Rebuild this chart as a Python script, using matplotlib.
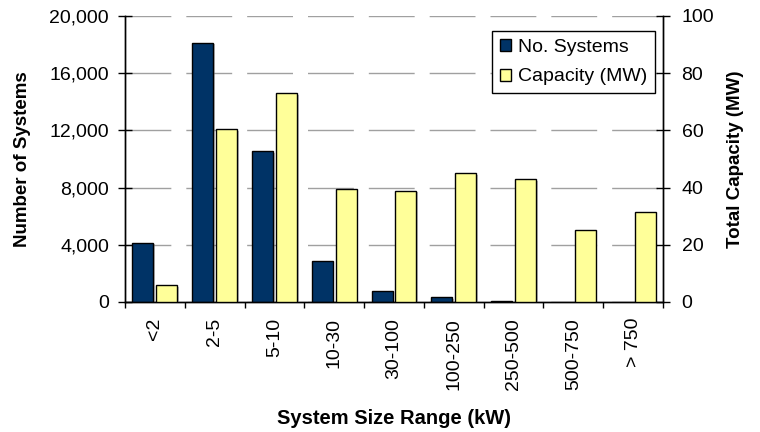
import matplotlib
matplotlib.use("Agg")
import matplotlib.pyplot as plt
import numpy as np
from matplotlib.ticker import FuncFormatter
import matplotlib.patheffects as pe

plt.rcParams['font.family'] = ['Liberation Sans', 'DejaVu Sans']

categories = ["<2", "2-5", "5-10", "10-30", "30-100", "100-250", "250-500", "500-750", "> 750"]
num_systems = [4150, 18130, 10540, 2870, 770, 350, 100, 0, 0]
capacity_mw = [5.9, 60.4, 73.0, 39.5, 38.9, 45.0, 42.9, 25.3, 31.5]

blue = "#003366"
yellow = "#FFFF99"

W, H = 760, 432
fig = plt.figure(figsize=(W/100, H/100), dpi=100)
L, R, T, B = 125, 663, 16, 302
ax = fig.add_axes([L/W, 1-B/H, (R-L)/W, (B-T)/H])
ax2 = ax.twinx()

x = np.arange(len(categories))
w = 0.35
gap = 0.05
shadow = [pe.SimplePatchShadow(offset=(1.2, -1.2), shadow_rgbFace="#808080", alpha=0.5), pe.Normal()]
lw1 = [0 if v == 0 else 1.0 for v in num_systems]
lw2 = [0 if v == 0 else 1.0 for v in capacity_mw]
b1 = ax.bar(x - (w+gap)/2, num_systems, width=w, color=blue, edgecolor="black", linewidth=lw1, zorder=3, label="No. Systems")
b2 = ax2.bar(x + (w+gap)/2, capacity_mw, width=w, color=yellow, edgecolor="black", linewidth=lw2, zorder=3, label="Capacity (MW)")
for p, v in zip(list(b1), num_systems):
    if v > 0:
        p.set_path_effects(shadow)
for p, v in zip(list(b2), capacity_mw):
    if v > 0:
        p.set_path_effects(shadow)

ax.set_xlim(-0.5, len(categories) - 0.5)
ax.set_ylim(0, 20000)
ax2.set_ylim(0, 100)
ax.set_yticks(np.arange(0, 20001, 4000))
ax2.set_yticks(np.arange(0, 101, 20))
ax.yaxis.set_major_formatter(FuncFormatter(lambda v, p: f"{int(v):,}"))

ax.grid(axis="y", color="#A0A0A0", linestyle=(0, (33, 10.8)), linewidth=1.0, zorder=0)
ax.set_axisbelow(True)

ax.set_xticks(x)
ax.set_xticklabels(categories, rotation=90, fontsize=14, va="top")
ax.tick_params(axis="x", which="major", length=0, pad=11.5)
ax.set_xticks(np.arange(-0.5, len(categories), 1.0), minor=True)
ax.tick_params(axis="x", which="minor", length=4.5, direction="out", color="black", width=1.0)

ax.tick_params(axis="y", labelsize=14, length=10, direction="inout", pad=6.5, width=1.0)
ax2.tick_params(axis="y", labelsize=14, length=10, direction="inout", pad=8.4, width=1.0)

for a in (ax, ax2):
    a.spines["top"].set_visible(False)
    for s in ("left", "right", "bottom"):
        a.spines[s].set_color("black")
        a.spines[s].set_linewidth(1.0)

ax.set_ylabel("Number of Systems", fontsize=13.5, fontweight="bold")
ax.yaxis.set_label_coords((22-L)/(R-L), 0.5)
ax.yaxis.label.set_va("center")
ax2.set_ylabel("Total Capacity (MW)", fontsize=13.5, fontweight="bold")
ax2.yaxis.set_label_coords((736-L)/(R-L), 0.5)
ax2.yaxis.label.set_va("center")
ax.set_xlabel("System Size Range (kW)", fontsize=14.5, fontweight="bold")
ax.xaxis.set_label_coords(0.5, (B-418)/(B-T))
ax.xaxis.label.set_va("center")

leg = ax2.legend(handles=[b1, b2], loc="upper right", bbox_to_anchor=(655/W, 1-31/H), bbox_transform=fig.transFigure,
                 fontsize=14, frameon=True, fancybox=False, edgecolor="black", framealpha=1,
                 handlelength=0.57, handleheight=0.57, handletextpad=0.36, borderpad=0.4,
                 labelspacing=0.65, borderaxespad=0)
leg.get_frame().set_linewidth(1.0)
for h in leg.legend_handles:
    h.set_linewidth(1.0)
    h.set_path_effects([])

fig.savefig("out.png", dpi=100)
